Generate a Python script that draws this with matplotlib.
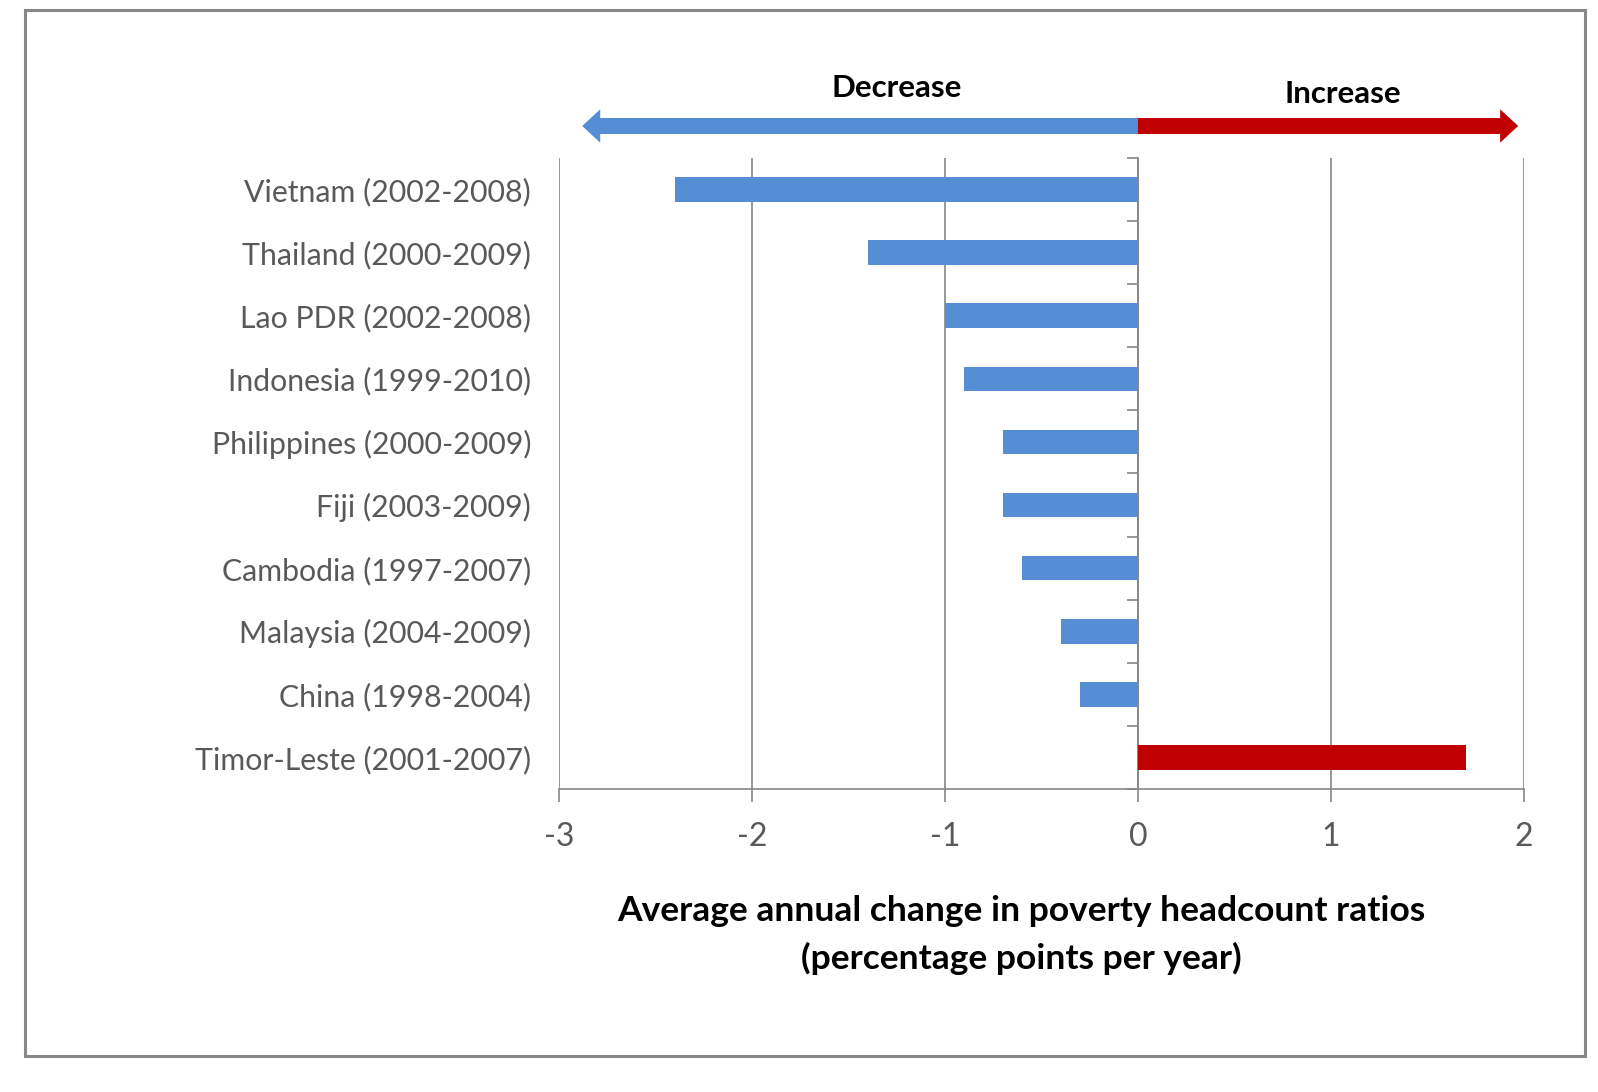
import matplotlib
matplotlib.use("Agg")
import matplotlib.pyplot as plt
import matplotlib.transforms as mtransforms
from matplotlib.patches import Rectangle

plt.rcParams['font.family'] = ['Lato', 'DejaVu Sans']

categories = ["Vietnam (2002-2008)", "Thailand (2000-2009)", "Lao PDR (2002-2008)",
              "Indonesia (1999-2010)", "Philippines (2000-2009)", "Fiji (2003-2009)",
              "Cambodia (1997-2007)", "Malaysia (2004-2009)", "China (1998-2004)",
              "Timor-Leste (2001-2007)"]
values = [-2.4, -1.4, -1.0, -0.9, -0.7, -0.7, -0.6, -0.4, -0.3, 1.7]
x_ticks = [-3, -2, -1, 0, 1, 2]
x_ticklabels = ["-3", "-2", "-1", "0", "1", "2"]

BLUE = "#558ED5"
RED = "#C00000"
GRID = "#868686"
TXT = "#595959"

fig = plt.figure(figsize=(15.98, 10.92), dpi=100)
ax = fig.add_axes([559/1598, 1-789/1092, (1524-559)/1598, (789-158)/1092])

ypos = list(range(len(categories)))
colors = [RED if v > 0 else BLUE for v in values]
ax.barh(ypos, values, height=0.39, color=colors, zorder=3)

ax.set_xlim(-3, 2)
ax.set_ylim(len(categories)-0.5, -0.5)
ax.set_xticks(x_ticks)
ax.set_xticklabels(x_ticklabels, fontsize=23, color=TXT)
ax.set_yticks(ypos)
ax.set_yticklabels(categories, fontsize=21.8, color=TXT)
ax.tick_params(axis='y', length=0, pad=20)
ax.tick_params(axis='x', length=9, width=1.2, color=GRID, pad=15, direction='out')
ax.grid(axis='x', color=GRID, linewidth=1.2, zorder=0)
for s in ['top', 'right', 'left']:
    ax.spines[s].set_visible(False)
ax.spines['bottom'].set_color(GRID)
ax.spines['bottom'].set_linewidth(1.2)

# y axis at x = 0 with tick marks between categories (pointing left)
sec = ax.secondary_yaxis(3/5)
sec.set_alignment('left')
sec.set_yticks([i - 0.5 for i in range(len(categories) + 1)])
sec.set_yticklabels([])
sec.tick_params(axis='y', which='both', left=True, right=False, length=8, width=1.2,
                color=GRID, direction='out')
sec.spines['left'].set_color(GRID)
sec.spines['left'].set_linewidth(1.2)
sec.spines['right'].set_visible(False)

# direction arrows above the plot
blend = mtransforms.blended_transform_factory(ax.transData, fig.transFigure)
arrow_y = 1 - 126/1092
style = "simple,head_length=13,head_width=24,tail_width=11.5"
ax.annotate("", xy=(-2.88, arrow_y), xytext=(0, arrow_y), xycoords=blend, textcoords=blend,
            arrowprops=dict(arrowstyle=style, color=BLUE, shrinkA=0, shrinkB=0,
                            mutation_scale=1, lw=0), annotation_clip=False)
ax.annotate("", xy=(1.97, arrow_y), xytext=(0, arrow_y), xycoords=blend, textcoords=blend,
            arrowprops=dict(arrowstyle=style, color=RED, shrinkA=0, shrinkB=0,
                            mutation_scale=1, lw=0), annotation_clip=False)
ax.text(-1.25, 1 - 88/1092, "Decrease", transform=blend, ha='center', va='center',
        fontsize=22.5, fontweight='bold', color='black')
ax.text(1.06, 1 - 94/1092, "Increase", transform=blend, ha='center', va='center',
        fontsize=22.5, fontweight='bold', color='black')

# axis title
fig.text(1021/1598, 1 - 911/1092, "Average annual change in poverty headcount ratios",
         ha='center', va='center', fontsize=25.5, fontweight='bold', color='black')
fig.text(1021/1598, 1 - 958/1092, "(percentage points per year)",
         ha='center', va='center', fontsize=25.5, fontweight='bold', color='black')

# outer frame
fig.patches.append(Rectangle((25.5/1598, 1 - 1055.5/1092), (1585-25.5)/1598, (1055.5-9.5)/1092,
                             transform=fig.transFigure, fill=False, edgecolor="#888888",
                             linewidth=2.2))

fig.savefig("out.png", dpi=100, facecolor='white')
